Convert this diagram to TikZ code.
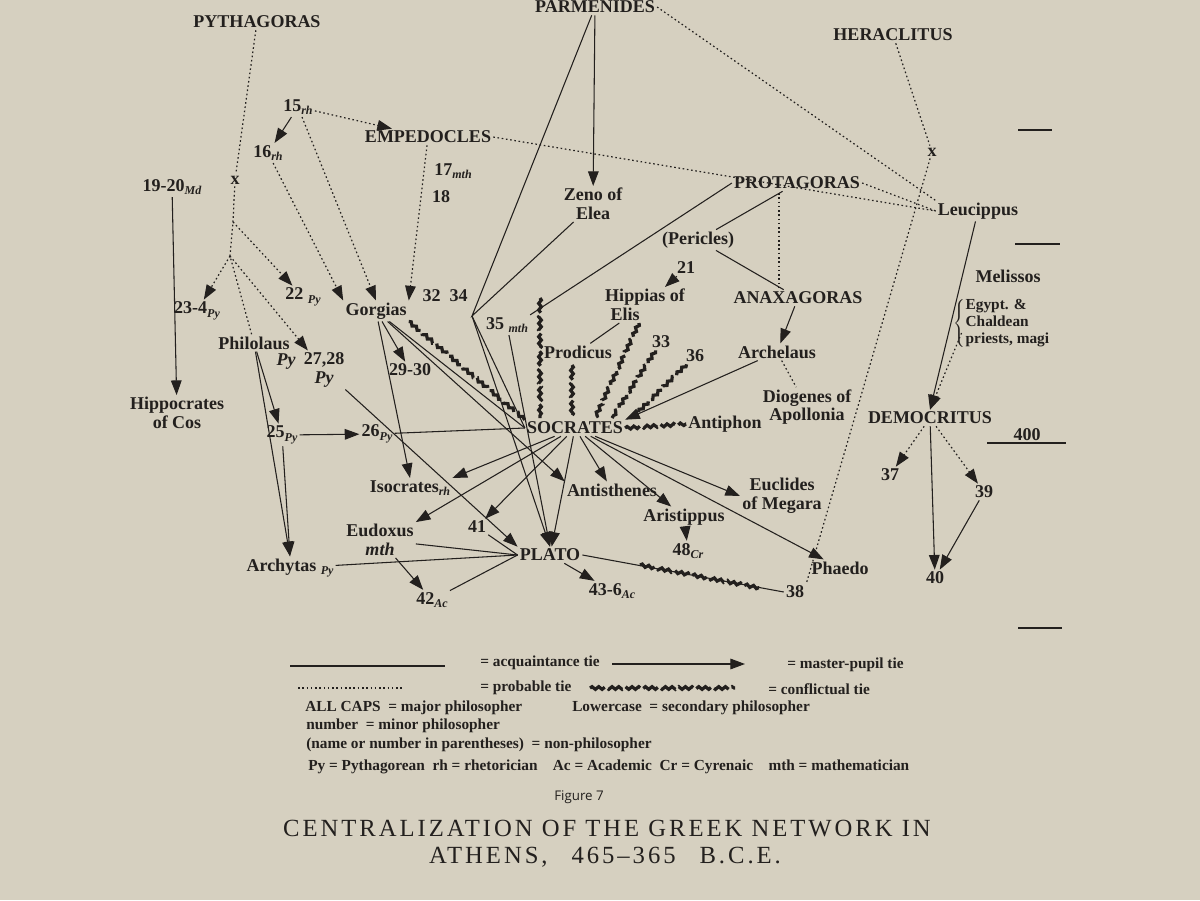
\documentclass[tikz,border=0pt]{standalone}
\usepackage{fontspec}
\setmainfont{Liberation Serif}
\newfontfamily\figfont{Open Sans}
\usetikzlibrary{arrows.meta,decorations.pathmorphing}
\definecolor{paper}{RGB}{214,208,192}
\definecolor{ink}{RGB}{35,32,30}
\newcommand{\lsb}[1]{\raisebox{-0.45ex}{\itshape\small #1}}
\tikzset{
 nm/.style={inner sep=1.5pt,text=ink,font=\bfseries\fontsize{13.5}{14}\selectfont,align=center},
 tie/.style={draw=ink,line width=0.8pt},
 mp/.style={tie,-{Triangle[length=11pt,width=8pt]}},
 prob/.style={draw=ink,line width=0.9pt,dash pattern=on 1.2pt off 2pt},
 pmp/.style={prob,-{Triangle[length=11pt,width=8pt]}},
 confl/.style={draw=ink,line width=2.4pt,dash pattern=on 14pt off 3pt,decorate,decoration={snake,amplitude=1pt,segment length=5pt}},
 leg/.style={inner sep=0pt,text=ink,font=\bfseries\fontsize{11.5}{12}\selectfont,anchor=west},
 ttl/.style={inner sep=0pt,text=ink,font=\fontsize{18.5}{20}\selectfont\addfontfeature{LetterSpace=12}}
}
\begin{document}
\begin{tikzpicture}[x=0.75pt,y=-0.75pt]
\fill[paper] (0,0) rectangle (1200,900);
\useasboundingbox (0,0) rectangle (1200,900);
% nodes
\node[nm] (pyth) at (257,22) {PYTHAGORAS};
\node[nm] (parm) at (595,7) {PARMENIDES};
\node[nm] (hera) at (893,35) {HERACLITUS};
\node[nm] (n15) at (298,107) {15\lsb{rh}};
\node[nm] (n16) at (268,153) {16\lsb{rh}};
\node[nm] (emp) at (428,137) {EMPEDOCLES};
\node[nm] (n17) at (453,171) {17\lsb{mth}};
\node[nm] (n18) at (441,197) {18};
\node[nm] (n19) at (172,187) {19-20\lsb{Md}};
\node[nm] (xp) at (235,180) {x};
\node[nm] (zeno) at (593,204) {Zeno of\\Elea};
\node[nm] (prot) at (797,183) {PROTAGORAS};
\node[nm] (leuc) at (978,211) {Leucippus};
\node[nm] (xh) at (932,152) {x};
\node[nm] (peri) at (698,240) {(Pericles)};
\node[nm] (n21) at (686,268) {21};
\node[nm] (hipp) at (645,305) {Hippias of\\\hspace*{-2.2em}Elis};
\node[nm] (anax) at (798,298) {ANAXAGORAS};
\node[nm] (meli) at (1008,276) {Melissos};
\node[inner sep=0pt,text=ink,font=\bfseries\fontsize{11.5}{12.5}\selectfont] (egy) at (1005,323) {$\left\{\begin{minipage}{5.8em}\raggedright Egypt. \&\\Chaldean\\priests, magi\end{minipage}\right.$};
\node[nm] (n23) at (197,311) {23-4\lsb{Py}};
\node[nm] (n22) at (303,297) {22 \lsb{Py}};
\node[nm] (gorg) at (376,311) {Gorgias};
\node[nm] (n32) at (445,296) {32\enspace 34};
\node[nm] (n35) at (507,325) {35 \lsb{mth}};
\node[nm] (phil) at (254,343) {Philolaus};
\node[nm] (philpy) at (286,362) {\itshape Py};
\node[nm] (n27) at (324,370) {27,28\\\itshape Py};
\node[nm] (n29) at (410,370) {29-30};
\node[nm] (prod) at (578,352) {Prodicus};
\node[nm] (n33) at (661,342) {33};
\node[nm] (n36) at (695,356) {36};
\node[nm] (arch) at (777,352) {Archelaus};
\node[nm] (diog) at (807,407) {Diogenes of\\Apollonia};
\node[nm] (hippo) at (177,413) {Hippocrates\\of Cos};
\node[nm] (n25) at (282,435) {25\lsb{Py}};
\node[nm] (n26) at (377,434) {26\lsb{Py}};
\node[nm] (socr) at (575,428) {SOCRATES};
\node[nm] (anti) at (725,424) {Antiphon};
\node[nm] (demo) at (930,418) {DEMOCRITUS};
\node[nm] (n400) at (1027,435) {400};
\node[nm] (n37) at (890,475) {37};
\node[nm] (n39) at (984,492) {39};
\node[nm] (isoc) at (410,488) {Isocrates\lsb{rh}};
\node[nm] (antis) at (612,490) {Antisthenes};
\node[nm] (eucl) at (782,496) {Euclides\\of Megara};
\node[nm] (aris) at (684,517) {Aristippus};
\node[nm] (n48) at (688,551) {48\lsb{Cr}};
\node[nm] (eudo) at (380,540) {Eudoxus\\\itshape mth};
\node[nm] (n41) at (477,527) {41};
\node[nm] (archy) at (290,568) {Archytas \lsb{Py}};
\node[nm] (plat) at (550,555) {PLATO};
\node[nm] (n42) at (432,600) {42\lsb{Ac}};
\node[nm] (n43) at (612,591) {43-6\lsb{Ac}};
\node[nm] (n38) at (795,592) {38};
\node[nm] (phae) at (840,568) {Phaedo};
\node[nm] (n40) at (935,578) {40};
% helper coordinates
\coordinate (b1) at (233,222);
\coordinate (b2) at (230,256);
\coordinate (vx) at (472,316);
\coordinate (cv1) at (540,298);
% time-scale marks
\draw[ink,line width=0.8pt] (1018,130) -- (1052,130);
\draw[ink,line width=0.8pt] (1015,244) -- (1060,244);
\draw[ink,line width=0.8pt] (987,443) -- (1066,443);
\draw[ink,line width=0.8pt] (1018,628) -- (1062,628);
% probable ties
\draw[prob] (pyth) -- (xp) -- (b1) -- (b2) -- (phil);
\draw[pmp] (b1) -- (n22);
\draw[pmp] (b2) -- (n23);
\draw[pmp] (b2) -- (n27);
\draw[pmp] (n15) -- (emp);
\draw[pmp] (n15) -- (gorg.north);
\draw[pmp] (n16) -- (gorg.north west);
\draw[pmp] (emp) -- (gorg.north east);
\draw[prob] (emp.east) -- (leuc.west);
\draw[prob] (parm.east) -- (leuc.north west);
\draw[prob] (prot.east) -- (leuc.west);
\draw[prob] (hera) -- (xh) -- (n38.north east);
\draw[prob] (779,193) -- (779,290);
\draw[prob] (arch) -- (diog);
\draw[pmp] (egy.west) ++(8,10) -- (demo.north);
\draw[pmp] (demo) -- (n37);
\draw[pmp] (demo) -- (n39);
% master-pupil and acquaintance ties
\draw[mp] (n15) -- (n16);
\draw[mp] (n19) -- (hippo);
\draw[mp] (parm) -- (zeno);
\draw[tie] (parm) -- (vx) -- (zeno);
\draw[tie] (prot.west) -- (n35.north east);
\draw[tie] (prot) -- (peri) -- (anax);
\draw[mp] (anax) -- (arch);
\draw[mp] (arch) -- (socr.north east);
\draw[mp] (n21) -- (hipp);
\draw[tie] (hipp) -- (prod);
\draw[tie] (vx) -- (socr.west);
\draw[mp] (vx) -- (plat.north);
\draw[mp] (n35) -- (plat.north);
\draw[mp] (n27) -- (plat.north west);
\draw[mp] (gorg) -- (n29);
\draw[mp] (gorg) -- (isoc.north);
\draw[tie] (gorg) -- (socr.west);
\draw[mp] (gorg) -- (antis.north west);
\draw[mp] (phil) -- (n25);
\draw[mp] (phil) -- (archy.north);
\draw[mp] (n25) -- (archy.north);
\draw[mp] (n25) -- (n26);
\draw[tie] (n26) -- (socr.west);
\draw[mp] (socr) -- (isoc.north east);
\draw[mp] (socr) -- (eudo.north east);
\draw[mp] (socr) -- (n41);
\draw[mp] (socr) -- (plat);
\draw[mp] (socr) -- (antis);
\draw[mp] (socr) -- (aris);
\draw[mp] (socr) -- (eucl.west);
\draw[mp] (socr) -- (phae);
\draw[mp] (aris) -- (n48);
\draw[mp] (eudo) -- (n42);
\draw[tie] (eudo) -- (plat.west);
\draw[tie] (archy) -- (plat.west);
\draw[tie] (n42) -- (plat.west);
\draw[tie] (n41) -- (plat.west);
\draw[mp] (plat) -- (n43);
\draw[tie] (plat.east) -- (n38.west);
\draw[mp] (leuc) -- (demo.north);
\draw[mp] (demo) -- (n40);
\draw[mp] (n39) -- (n40);
% conflictual ties
\draw[confl] (gorg.south east) -- (socr.north west);
\draw[confl] (cv1) -- (540,418);
\draw[confl] (572,365) -- (572,418);
\draw[confl] (hipp.south) ++(-6,0) -- (595,418);
\draw[confl] (n33) -- (612,418);
\draw[confl] (n36) -- (632,418);
\draw[confl] (socr.east) -- (anti.west);
\draw[confl] (640,565) -- (760,588);
% legend
\draw[ink,line width=0.8pt] (290,666) -- (445,666);
\node[leg] (l1) at (480,663) {= acquaintance tie};
\draw[mp] (612,664) -- (745,664);
\node[leg] (l2) at (787,665) {= master-pupil tie};
\draw[prob] (298,688) -- (403,688);
\node[leg] (l3) at (480,688) {= probable tie};
\draw[confl] (590,688) -- (735,688);
\node[leg] (l4) at (768,689) {= conflictual tie};
\node[leg] (l5) at (305,708) {ALL CAPS\enspace= major philosopher};
\node[leg] (l6) at (572,708) {Lowercase\enspace= secondary philosopher};
\node[leg] (l7) at (306,726) {number\enspace= minor philosopher};
\node[leg] (l8) at (306,745) {(name or number in parentheses)\enspace= non-philosopher};
\node[leg] (l9) at (308,767) {Py = Pythagorean\enspace rh = rhetorician\quad Ac = Academic\enspace Cr = Cyrenaic\quad mth = mathematician};
\node[inner sep=0pt,text=ink,font=\figfont\fontsize{10}{12}\selectfont] (fig) at (579,797) {Figure 7};
\node[ttl] (t1) at (607,829) {CENTRALIZATION OF THE GREEK NETWORK IN};
\node[ttl] (t2) at (605,857) {ATHENS,\hspace{0.6em} 465–365\hspace{0.6em} B.C.E.};
\end{tikzpicture}
\end{document}
